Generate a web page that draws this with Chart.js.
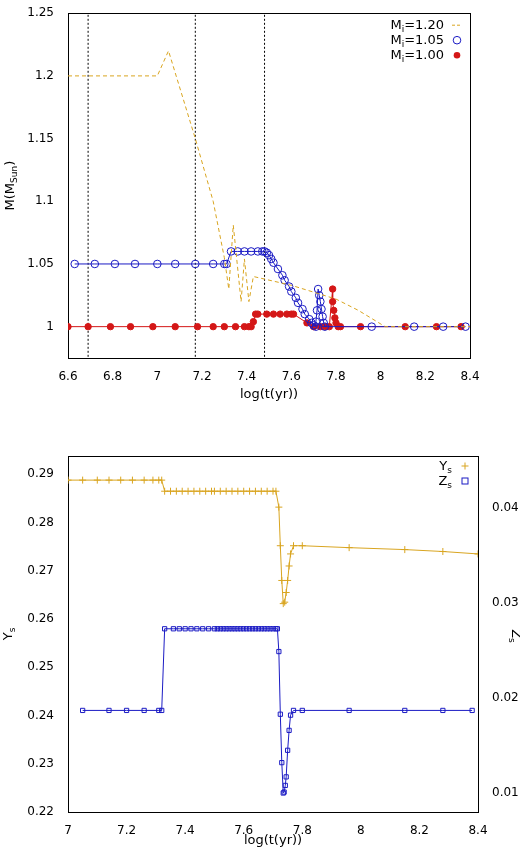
<!DOCTYPE html>
<html><head><meta charset="utf-8">
<script src="https://cdn.jsdelivr.net/npm/chart.js@4"></script>
<style>body{margin:0;background:#fff}canvas{display:block}</style>
</head><body>
<div style="width:520px;height:415px;position:relative"><canvas id="c1"></canvas></div>
<div style="width:520px;height:15px"></div>
<div style="width:520px;height:417px;position:relative"><canvas id="c2"></canvas></div>
<script>
// ---- top panel data ----
const m120X = [6.6,7.0,7.05,7.17,7.25,7.3,7.32,7.34,7.375,7.39,7.41,7.43,7.6,7.8,7.9,8.02,8.4];
const m120Y = [1.2,1.2,1.22,1.15,1.10,1.055,1.03,1.081,1.02,1.054,1.02,1.04,1.033,1.022,1.013,1.0,1.0];
const m105X = [6.63,6.72,6.81,6.9,7.0,7.08,7.17,7.25,7.3,7.31,7.33,7.36,7.39,7.42,7.45,7.47,7.48,7.49,7.5,7.51,7.52,7.54,7.56,7.57,7.59,7.6,7.62,7.63,7.65,7.66,7.68,7.69,7.7,7.71,7.71,7.715,7.72,7.725,7.73,7.735,7.74,7.745,7.75,7.96,8.15,8.28,8.38];
const m105Y = [1.05,1.05,1.05,1.05,1.05,1.05,1.05,1.05,1.05,1.05,1.06,1.06,1.06,1.06,1.06,1.06,1.06,1.059,1.057,1.054,1.051,1.046,1.041,1.037,1.032,1.028,1.023,1.019,1.014,1.01,1.006,1.003,1.001,1.0,1.004,1.013,1.03,1.025,1.02,1.014,1.008,1.003,1.0,1.0,1.0,1.0,1.0];
const m100X = [6.6,6.69,6.79,6.88,6.98,7.08,7.18,7.25,7.3,7.35,7.39,7.41,7.42,7.43,7.44,7.45,7.49,7.52,7.55,7.58,7.6,7.61,7.67,7.7,7.73,7.75,7.77,7.785,7.785,7.79,7.795,7.8,7.81,7.82,7.91,8.11,8.25,8.36];
const m100Y = [1.0,1.0,1.0,1.0,1.0,1.0,1.0,1.0,1.0,1.0,1.0,1.0,1.0,1.004,1.01,1.01,1.01,1.01,1.01,1.01,1.01,1.01,1.003,1.0,1.0,1.0,1.0,1.03,1.02,1.013,1.007,1.003,1.0,1.0,1.0,1.0,1.0,1.0];
const vlines = [6.69,7.17,7.48];
// ---- bottom panel data ----
const ysX = [7.0,7.05,7.1,7.14,7.18,7.22,7.26,7.29,7.31,7.32,7.33,7.35,7.37,7.39,7.41,7.43,7.45,7.47,7.49,7.5,7.52,7.54,7.56,7.58,7.6,7.62,7.64,7.66,7.68,7.7,7.71,7.72,7.725,7.73,7.735,7.74,7.745,7.75,7.755,7.76,7.77,7.8,7.96,8.15,8.28,8.4];
const ysY = [0.2888,0.2888,0.2888,0.2888,0.2888,0.2888,0.2888,0.2888,0.2888,0.2888,0.2865,0.2865,0.2865,0.2865,0.2865,0.2865,0.2865,0.2865,0.2865,0.2865,0.2865,0.2865,0.2865,0.2865,0.2865,0.2865,0.2865,0.2865,0.2865,0.2865,0.2865,0.2832,0.2752,0.268,0.2632,0.2635,0.2655,0.268,0.271,0.2735,0.2752,0.2752,0.2748,0.2744,0.274,0.2735];
const zsX = [7.05,7.14,7.2,7.26,7.31,7.32,7.33,7.36,7.38,7.4,7.42,7.44,7.46,7.48,7.5,7.51,7.52,7.53,7.54,7.55,7.56,7.57,7.58,7.59,7.6,7.61,7.62,7.63,7.64,7.65,7.66,7.67,7.68,7.69,7.7,7.71,7.715,7.72,7.725,7.73,7.735,7.738,7.742,7.745,7.75,7.755,7.76,7.77,7.8,7.96,8.15,8.28,8.38];
const zsY = [0.0187,0.0187,0.0187,0.0187,0.0187,0.0187,0.0273,0.0273,0.0273,0.0273,0.0273,0.0273,0.0273,0.0273,0.0273,0.0273,0.0273,0.0273,0.0273,0.0273,0.0273,0.0273,0.0273,0.0273,0.0273,0.0273,0.0273,0.0273,0.0273,0.0273,0.0273,0.0273,0.0273,0.0273,0.0273,0.0273,0.0273,0.0249,0.0183,0.0132,0.0100,0.0101,0.0108,0.0117,0.0145,0.0166,0.0182,0.0187,0.0187,0.0187,0.0187,0.0187,0.0187];

const GOLD='#d9a520', BLUE='#1b1bc4', RED='#d41717';
const FONT="'DejaVu Sans'";
Chart.defaults.font.family=FONT; Chart.defaults.font.size=12; Chart.defaults.color='#000';
Chart.defaults.animation=false;
const pts=(xs,ys)=>xs.map((x,i)=>({x:x,y:ys[i]}));

function subText(ctx,parts,x,y,align){
  ctx.save(); ctx.textBaseline='alphabetic';
  let w=0; parts.forEach(p=>{ctx.font=(p[1]?'9px ':'13px ')+FONT; w+=ctx.measureText(p[0]).width;});
  let cx = align==='right'? x-w : align==='center'? x-w/2 : x;
  parts.forEach(p=>{ctx.font=(p[1]?'9px ':'13px ')+FONT; ctx.textAlign='left'; ctx.fillText(p[0],cx,y+(p[1]?3:0)); cx+=ctx.measureText(p[0]).width;});
  ctx.restore(); return w;
}
function marker(ctx,type,x,y,color){
  ctx.save(); ctx.strokeStyle=color; ctx.fillStyle=color; ctx.lineWidth=1;
  if(type==='dash'){ctx.setLineDash([3,2]);ctx.beginPath();ctx.moveTo(x-5,y);ctx.lineTo(x+5,y);ctx.stroke();}
  if(type==='ocirc'){ctx.beginPath();ctx.arc(x,y,3.8,0,7);ctx.stroke();}
  if(type==='fcirc'){ctx.beginPath();ctx.arc(x,y,3.3,0,7);ctx.fill();}
  if(type==='plus'){ctx.beginPath();ctx.moveTo(x-3.5,y);ctx.lineTo(x+3.5,y);ctx.moveTo(x,y-3.5);ctx.lineTo(x,y+3.5);ctx.stroke();}
  if(type==='sq'){ctx.strokeRect(x-3,y-3,6,6);}
  ctx.restore();
}

const topPlugin={id:'tp',afterDraw(c){
  const ctx=c.ctx,a=c.chartArea;
  ctx.fillStyle='#000';
  const items=[[[['M'],['i',1],['=1.20']],'dash',GOLD],[[['M'],['i',1],['=1.05']],'ocirc',BLUE],[[['M'],['i',1],['=1.00']],'fcirc',RED]];
  items.forEach((it,i)=>{const y=a.top+16+i*15; subText(ctx,it[0],a.right-26,y,'right'); marker(ctx,it[1],a.right-13,y-4,it[2]);});
  ctx.save(); ctx.translate(14,(a.top+a.bottom)/2); ctx.rotate(-Math.PI/2);
  ctx.fillStyle='#000'; subText(ctx,[['M(M'],['Sun',1],[')']],0,0,'center'); ctx.restore();
  ctx.font='13px '+FONT; ctx.textAlign='center'; ctx.fillText('log(t(yr))',(a.left+a.right)/2,a.bottom+40);
}};
const botPlugin={id:'bp',afterDraw(c){
  const ctx=c.ctx,a=c.chartArea;
  ctx.fillStyle='#000';
  subText(ctx,[['Y'],['s',1]],a.right-26,a.top+14,'right'); marker(ctx,'plus',a.right-13,a.top+10,GOLD);
  subText(ctx,[['Z'],['s',1]],a.right-26,a.top+29,'right'); marker(ctx,'sq',a.right-13,a.top+25,BLUE);
  ctx.save(); ctx.translate(12,(a.top+a.bottom)/2); ctx.rotate(-Math.PI/2); subText(ctx,[['Y'],['s',1]],0,0,'center'); ctx.restore();
  ctx.save(); ctx.translate(a.right+34,(a.top+a.bottom)/2+2); ctx.rotate(Math.PI/2); subText(ctx,[['Z'],['s',1]],0,0,'center'); ctx.restore();
  ctx.font='13px '+FONT; ctx.textAlign='center'; ctx.fillText('log(t(yr))',(a.left+a.right)/2,a.bottom+32);
}};
const grid={display:false,drawOnChartArea:false};
const border={display:true,color:'#000',width:1};

const vds = vlines.map(v=>({type:'line',data:[{x:v,y:0.96},{x:v,y:1.25}],showLine:true,borderColor:'#000',borderWidth:1,borderDash:[2,2],pointRadius:0}));
new Chart(document.getElementById('c1'),{type:'scatter',
 data:{datasets:[
  {data:pts(m120X,m120Y),showLine:true,borderColor:GOLD,borderWidth:1,borderDash:[4,3],pointRadius:0},
  {data:pts(m105X,m105Y),showLine:true,borderColor:BLUE,borderWidth:1,pointStyle:'circle',pointRadius:3.8,pointBorderColor:BLUE,pointBackgroundColor:'rgba(0,0,0,0)',pointBorderWidth:1},
  {data:pts(m100X,m100Y),showLine:true,borderColor:RED,borderWidth:1,pointStyle:'circle',pointRadius:3.2,pointBorderColor:RED,pointBackgroundColor:RED},
  ...vds]},
 options:{responsive:true,maintainAspectRatio:false,layout:{padding:{top:5,right:42}},
  plugins:{legend:{display:false},tooltip:{enabled:false}},
  scales:{
   x:{type:'linear',min:6.6,max:8.4,grid:grid,border:border,ticks:{stepSize:0.2,padding:4,maxRotation:0,callback:v=>+v.toFixed(1)},afterFit(s){s.height=57;}},
   y:{min:0.975,max:1.25,grid:grid,border:border,ticks:{stepSize:0.05,padding:6,callback:v=>{const r=Math.round(v*100)/100;return Math.abs(v*20-Math.round(v*20))<1e-6&&r>=1?String(r):'';}},afterFit(s){s.width=68;}},
   xtop:{axis:'x',position:'top',type:'linear',min:6.6,max:8.4,grid:grid,border:border,ticks:{display:false}},
   yright:{axis:'y',position:'right',type:'linear',min:0.975,max:1.25,grid:grid,border:border,ticks:{display:false}}
  }},plugins:[topPlugin]});

new Chart(document.getElementById('c2'),{type:'scatter',
 data:{datasets:[
  {data:pts(ysX,ysY),yAxisID:'y',showLine:true,borderColor:GOLD,borderWidth:1,pointStyle:'cross',pointRadius:3.5,pointBorderColor:GOLD,pointBorderWidth:1},
  {data:pts(zsX,zsY),yAxisID:'yz',showLine:true,borderColor:BLUE,borderWidth:1,pointStyle:'rect',pointRadius:3,pointBorderColor:BLUE,pointBackgroundColor:'rgba(0,0,0,0)',pointBorderWidth:1}]},
 options:{responsive:true,maintainAspectRatio:false,layout:{padding:{top:18}},
  plugins:{legend:{display:false},tooltip:{enabled:false}},
  scales:{
   x:{type:'linear',min:7,max:8.4,grid:grid,border:border,ticks:{stepSize:0.2,padding:4,maxRotation:0,callback:v=>+v.toFixed(1)},afterFit(s){s.height=35;}},
   y:{position:'left',min:0.22,max:0.2938,grid:grid,border:border,ticks:{stepSize:0.01,padding:6,callback:v=>{const r=Math.round(v*100);return Math.abs(v*100-r)<1e-6?(r/100).toFixed(2):'';}},afterFit(s){s.width=68;}},
   yz:{axis:'y',type:'linear',position:'right',min:0.008,max:0.0455,grid:grid,border:border,ticks:{stepSize:0.01,padding:6,callback:v=>{const r=Math.round(v*100);return Math.abs(v*100-r)<1e-6&&r>0?(r/100).toFixed(2):'';}},afterFit(s){s.width=42;}},
   xtop:{axis:'x',position:'top',type:'linear',min:7,max:8.4,grid:grid,border:border,ticks:{display:false}}
  }},plugins:[botPlugin]});
</script>
</body></html>
